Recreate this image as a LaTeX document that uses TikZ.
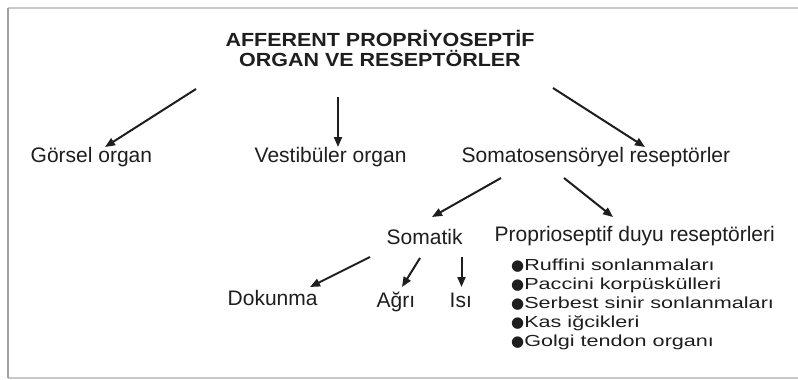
\documentclass[tikz,border=0pt]{standalone}
\usepackage{fontspec}
\setmainfont{Liberation Sans}
\newfontfamily\titlefont[FakeStretch=1.13]{Liberation Sans}
\newfontfamily\listfont[FakeStretch=1.35]{Liberation Sans}
\newfontfamily\bulfont{DejaVu Sans}
\newcommand{\bul}{{\bulfont\fontsize{15}{19}\selectfont ●}}
\usetikzlibrary{arrows.meta}
\definecolor{ink}{HTML}{1E1E1E}
\definecolor{framegrey}{HTML}{C8C8C8}
\definecolor{framedark}{HTML}{A0A0A0}
\begin{document}
\begin{tikzpicture}[x=1pt,y=-1pt,
  lbl/.style={inner sep=0pt, anchor=base west, text=ink, font=\fontsize{21}{24}\selectfont},
  titlebox/.style={inner sep=0pt, anchor=base, align=center, text=ink, font=\titlefont\bfseries\fontsize{19}{20.5}\selectfont},
  listbox/.style={inner sep=0pt, anchor=base west, align=left, text=ink, font=\listfont\fontsize{16}{19}\selectfont},
  arr/.style={line width=2pt, draw=ink, -{Triangle[length=10pt,width=8pt]}}]
\useasboundingbox (0,0) rectangle (798,380);
\fill[white] (0,0) rectangle (798,380);
% frame
\draw[framegrey, line width=1.5pt] (798,8) -- (8,8);
\draw[framegrey, line width=1.5pt] (8,378) -- (798,378);
\draw[framedark, line width=1.5pt] (8,8) -- (8,378);
% nodes (multi-line nodes: base = last line)
\node[titlebox] (title) at (380,66.5) {AFFERENT PROPRİYOSEPTİF\\ORGAN VE RESEPTÖRLER};
\node[lbl] (gorsel) at (30.5,162) {Görsel organ};
\node[lbl] (vest) at (254.5,162) {Vestibüler organ};
\node[lbl] (soma) at (461.5,162) {Somatosensöryel reseptörler};
\node[lbl] (somatik) at (386.5,244.5) {Somatik};
\node[lbl] (prop) at (494.5,241.5) {Proprioseptif duyu reseptörleri};
\node[lbl] (dok) at (227.5,305) {Dokunma};
\node[lbl] (agri) at (376.5,307) {Ağrı};
\node[lbl] (isi) at (449.5,307) {Isı};
\node[listbox] (list) at (511,346) {\bul Ruffini sonlanmaları\\\bul Paccini korpüskülleri\\\bul Serbest sinir sonlanmaları\\\bul Kas iğcikleri\\\bul Golgi tendon organı};
% connector ends
\coordinate (t1) at (196,89);  \coordinate (g1) at (105,147);
\coordinate (t2) at (338,97);  \coordinate (v1) at (338,147);
\coordinate (t3) at (553,88);  \coordinate (s1) at (645,147);
\coordinate (s2) at (501,178); \coordinate (sm1) at (432,217);
\coordinate (s3) at (564,178); \coordinate (p1) at (613,217);
\coordinate (sm2) at (370,257); \coordinate (d1) at (310,287);
\coordinate (sm3) at (420,258); \coordinate (a1) at (402,287);
\coordinate (sm4) at (461.5,257); \coordinate (i1) at (461.5,287);
% connectors
\draw[arr] (t1) -- (g1);
\draw[arr] (t2) -- (v1);
\draw[arr] (t3) -- (s1);
\draw[arr] (s2) -- (sm1);
\draw[arr] (s3) -- (p1);
\draw[arr] (sm2) -- (d1);
\draw[arr] (sm3) -- (a1);
\draw[arr] (sm4) -- (i1);
\end{tikzpicture}
\end{document}
